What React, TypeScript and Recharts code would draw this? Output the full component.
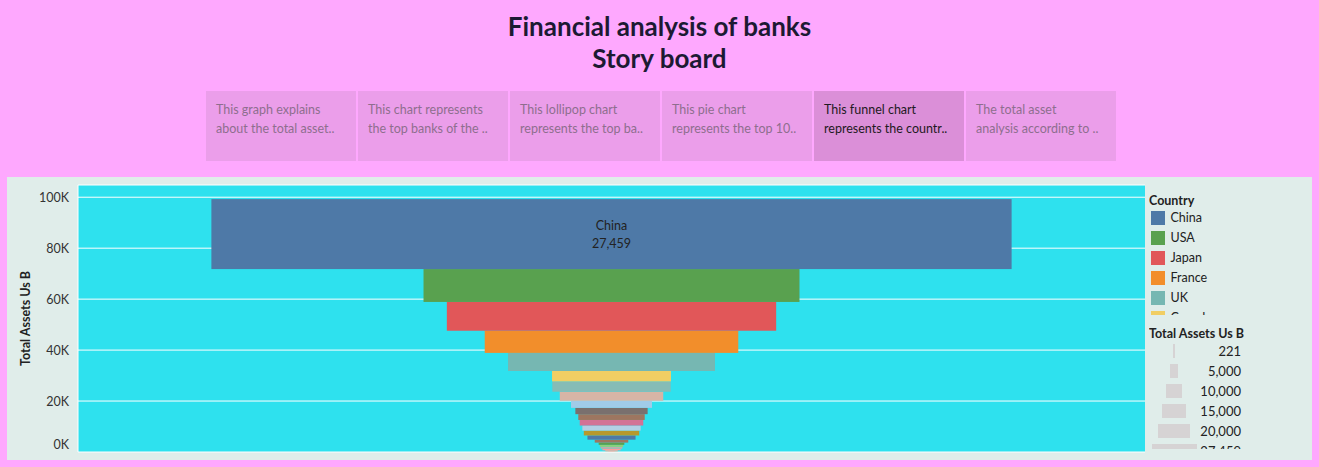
import React from "react";
import { ComposedChart, Bar, XAxis, YAxis, CartesianGrid, Label, LabelList } from "recharts";

// countries, largest first (funnel top -> bottom)
const countries = [
  "China", "USA", "Japan", "France", "UK", "Canada", "Germany", "South Korea",
  "Switzerland", "Australia", "Spain", "Italy", "Netherlands", "Sweden", "Brazil",
  "India", "Singapore", "Norway", "Denmark", "Belgium", "Austria", "Finland",
];
const totalAssets = [
  27459, 12900, 11300, 8700, 7100, 4080, 4060, 3550, 2780, 2480, 2280,
  2180, 2000, 1900, 1650, 1150, 880, 800, 740, 620, 430, 221,
];
const countryColors = [
  "#4E79A7", "#59A14F", "#E15759", "#F28E2B", "#76B7B2", "#F1CE63", "#86BCB6",
  "#D7B5A6", "#A0CBE8", "#79706E", "#9D7660", "#D37295", "#B3CFE4", "#B6992D",
  "#4E79A7", "#9D7660", "#59A14F", "#8CD17D", "#BAB0AC", "#FF9D9A", "#FFB59E", "#F5C2C2",
];
const yTicks = [0, 20000, 40000, 60000, 80000, 100000];
const sizeLegendValues = [221, 5000, 10000, 15000, 20000, 27459];
const storyPoints = [
  ["This graph explains", "about the total asset.."],
  ["This chart represents", "the top banks of the .."],
  ["This lollipop chart", "represents the top ba.."],
  ["This pie chart", "represents the top 10.."],
  ["This funnel chart", "represents the countr.."],
  ["The total asset", "analysis according to .."],
];
const activeStory = 4;
const legendVisible = 6; // the colour legend is scrolled, only the first rows show

const FONT = "Lato, 'Noto Sans', sans-serif";
const PAGE_BG = "#FEA8FE";
const PANEL_BG = "#E0EDEA";
const PLOT_BG = "#2EE1EE";
const maxAsset = Math.max(...totalAssets);

// one row, one column per country
const row: Record<string, string | number> = { name: "All" };
countries.forEach((c, i) => {
  row[c] = totalAssets[i];
});
const data = [row];

const fmtK = (v: number) => `${v / 1000}K`;
const fmtNum = (v: number) => v.toLocaleString("en-US");

const segment = (value: number, color: string) => (props: any) => {
  const { x, y, width, height } = props;
  const w = (width * 0.75 * value) / maxAsset;
  const cx = x + width / 2;
  return <rect x={cx - w / 2} y={y} width={w} height={Math.max(height, 0)} fill={color} />;
};

const YTick = (props: any) => {
  const { x, y, payload } = props;
  // tableau lifts the bottom label so it stays inside the pane
  const dy = Number(payload.value) === 0 ? -8 : 0;
  return (
    <text x={x} y={y + dy} textAnchor="end" dominantBaseline="central" fontFamily={FONT} fontSize={12.5} fill="#333">
      {fmtK(Number(payload.value))}
    </text>
  );
};

const YTitle = (props: any) => {
  const vb = props.viewBox || { x: 0, y: 0, width: 0, height: 0 };
  const cx = vb.x + 18.7;
  const cy = vb.y + vb.height / 2;
  return (
    <text
      x={cx}
      y={cy}
      transform={`rotate(-90, ${cx}, ${cy})`}
      textAnchor="middle"
      dominantBaseline="central"
      fontFamily={FONT}
      fontSize={12.5}
      fontWeight={700}
      fill="#222"
    >
      Total Assets Us B
    </text>
  );
};

const ChinaLabel = (props: any) => {
  const { x, y, width, height } = props;
  const cx = x + width / 2;
  const cy = y + height / 2;
  return (
    <g fontFamily={FONT} fontSize={12.5} fill="#222" textAnchor="middle">
      <text x={cx} y={cy - 4}>{countries[0]}</text>
      <text x={cx} y={cy + 13.5}>{fmtNum(totalAssets[0])}</text>
    </g>
  );
};

export default function App() {
  // bottom of the stack is the smallest country
  const order = countries.map((_, i) => i).reverse();

  return (
    <div style={{ position: "relative", width: 1319, height: 467, background: PAGE_BG, fontFamily: FONT, overflow: "hidden" }}>
      <style>{`body{margin:0;background:${PAGE_BG}}`}</style>

      {/* title */}
      <div style={{ position: "absolute", left: 0, top: 9.5, width: 1319, textAlign: "center", fontSize: 26, fontWeight: 700, lineHeight: "32px", color: "#1C1A33" }}>
        <div>Financial analysis of banks</div>
        <div>Story board</div>
      </div>

      {/* story points */}
      {storyPoints.map((lines, i) => (
        <div
          key={i}
          style={{
            position: "absolute",
            left: 206 + i * 152,
            top: 91,
            width: 150,
            height: 70,
            boxSizing: "border-box",
            padding: "9px 0 0 10px",
            background: i === activeStory ? "#DB8FD8" : "#EB9EEA",
            color: i === activeStory ? "#1E1A22" : "#8E6E8E",
            fontSize: 12.5,
            lineHeight: "19px",
            whiteSpace: "nowrap",
          }}
        >
          <div>{lines[0]}</div>
          <div>{lines[1]}</div>
        </div>
      ))}

      {/* dashboard panel */}
      <div style={{ position: "absolute", left: 7, top: 177, width: 1305, height: 283, background: PANEL_BG }} />

      <div style={{ position: "absolute", left: 7, top: 177 }}>
        <ComposedChart
          width={1138}
          height={283}
          data={data}
          margin={{ top: 8, right: 0, bottom: 8, left: 0 }}
          barCategoryGap={0}
          barGap={0}
        >
          <CartesianGrid vertical={false} stroke="#FFFFFF" fill={PLOT_BG} fillOpacity={1} />
          <XAxis dataKey="name" type="category" hide />
          <YAxis
            type="number"
            domain={[0, 104800]}
            ticks={yTicks}
            interval={0}
            width={71}
            tickLine={false}
            axisLine={{ stroke: "#FFFFFF" }}
            tickMargin={3}
            tick={<YTick />}
            allowDataOverflow
          >
            <Label content={<YTitle />} />
          </YAxis>
          {order.map((i) => (
            <Bar
              key={countries[i]}
              dataKey={countries[i]}
              stackId="funnel"
              fill={countryColors[i]}
              shape={segment(totalAssets[i], countryColors[i])}
              isAnimationActive={false}
            >
              {i === 0 && <LabelList content={<ChinaLabel />} />}
            </Bar>
          ))}
        </ComposedChart>
      </div>

      {/* colour legend (scrolled, clipped) */}
      <div style={{ position: "absolute", left: 1149, top: 193, width: 160, height: 121.5, overflow: "hidden", color: "#222" }}>
        <div style={{ position: "absolute", left: 0, top: 1, fontSize: 12.5, fontWeight: 700, lineHeight: "14.4px" }}>Country</div>
        {countries.slice(0, legendVisible).map((c, i) => (
          <div key={c} style={{ position: "absolute", left: 0, top: 18 + i * 20, height: 14, display: "flex", alignItems: "center" }}>
            <div style={{ width: 14, height: 13.5, marginLeft: 2, background: countryColors[i] }} />
            <div style={{ marginLeft: 5.5, fontSize: 12.5, lineHeight: "14px" }}>{c}</div>
          </div>
        ))}
      </div>

      {/* size legend (clipped) */}
      <div style={{ position: "absolute", left: 1149, top: 325, width: 160, height: 123.5, overflow: "hidden", color: "#222" }}>
        <div style={{ position: "absolute", left: 0, top: 1.5, fontSize: 12.5, fontWeight: 700, lineHeight: "14.4px" }}>Total Assets Us B</div>
        {sizeLegendValues.map((v, i) => {
          const w = Math.max(2, (45 * v) / maxAsset);
          return (
            <React.Fragment key={v}>
              <div style={{ position: "absolute", left: 25 - w / 2, top: 19 + i * 20, width: w, height: 14, background: "#D6D3D4" }} />
              <div style={{ position: "absolute", left: 40, width: 52, textAlign: "right", top: 19 + i * 20, fontSize: 13, lineHeight: "14px" }}>{fmtNum(v)}</div>
            </React.Fragment>
          );
        })}
      </div>
    </div>
  );
}
